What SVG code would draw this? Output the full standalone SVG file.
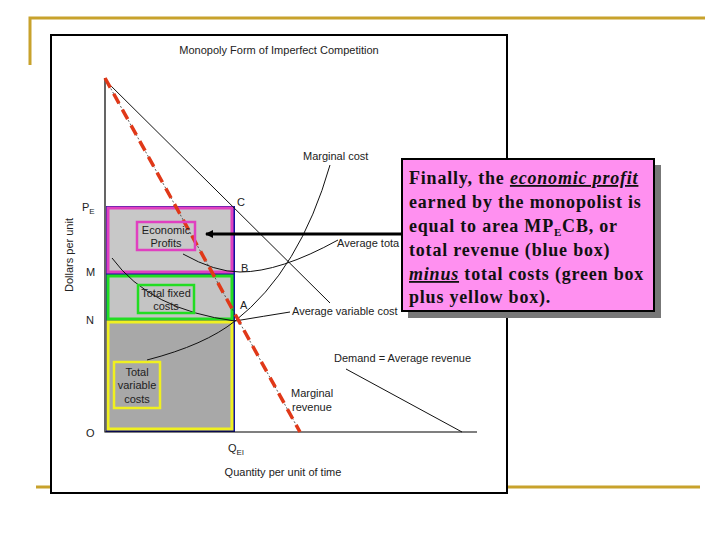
<svg xmlns="http://www.w3.org/2000/svg" width="720" height="540" viewBox="0 0 720 540">
<style>
.s{font-family:"Liberation Sans",Arial,sans-serif;font-size:11px;fill:#222}
.c{fill:none;stroke:#111;stroke-width:1}
.b{font-family:"Liberation Serif","Times New Roman",serif;font-size:18px;font-weight:bold;fill:#111;letter-spacing:0.8px}
</style>
<defs><marker id="ah" markerWidth="8" markerHeight="8" refX="7" refY="4" orient="auto" markerUnits="userSpaceOnUse"><path d="M0,0 L8,4 L0,8 Z" fill="#000"/></marker></defs>
<rect width="720" height="540" fill="#fff"/>
<g id="frame" stroke="#c8a22c" stroke-width="3" fill="none">
<path d="M30,65 V18 H705"/><path d="M36,487 H700"/>
</g>
<g id="chart">
<rect x="51" y="35" width="456" height="458" fill="#fff" stroke="#000" stroke-width="2"/>
<text class="s" x="279" y="54" text-anchor="middle">Monopoly Form of Imperfect Competition</text>
</g>
<g id="boxes">
<rect x="106" y="206" width="129" height="226" fill="#1010a0"/>
<rect x="108" y="208" width="124" height="64" fill="#c8c8c8" stroke="#e040c0" stroke-width="3"/>
<rect x="108" y="276" width="124" height="43" fill="#c4c4c4" stroke="#22dd22" stroke-width="3"/>
<rect x="108" y="322" width="124" height="107" fill="#a8a8a8" stroke="#f0f020" stroke-width="3"/>
</g>
<g id="axes" stroke="#000" fill="none">
<path d="M105,78 V432 H477" stroke-width="1.2"/>
</g>
<g id="curves">
<path class="c" d="M105,80 L330,303"/><path class="c" d="M346,369 L462,432"/>
<path class="c" d="M112,258 Q150,310 235,321 Q265,316 290,312"/>
<path class="c" d="M183,254 Q215,272 240,272 Q280,272 338,240"/>
<path class="c" d="M147,360 Q205,345 235,321 Q300,270 330,165"/>
<path d="M105,78 L300,432" stroke="#333" stroke-width="0.8" stroke-dasharray="2,2" fill="none"/>
<path d="M105,78 L300,432" stroke="#e03818" stroke-width="3.5" stroke-dasharray="11,7" fill="none"/>
</g>
<g id="labels">
<text class="s" x="82" y="211">P<tspan font-size="8" dy="3">E</tspan></text>
<text class="s" x="86" y="276">M</text><text class="s" x="86" y="324">N</text><text class="s" x="86" y="437">O</text>
<text class="s" x="228" y="452">Q<tspan font-size="8" dy="3">El</tspan></text>
<text class="s" x="283" y="476" text-anchor="middle">Quantity per unit of time</text>
<text class="s" x="0" y="0" transform="translate(73,255) rotate(-90)" text-anchor="middle">Dollars per unit</text>
<text class="s" x="237" y="206">C</text><text class="s" x="241" y="272">B</text><text class="s" x="240" y="309">A</text>
<text class="s" x="303" y="160">Marginal cost</text>
<text class="s" x="337" y="247">Average tota</text>
<text class="s" x="292" y="315">Average variable cost</text>
<text class="s" x="334" y="362">Demand = Average revenue</text>
<text class="s" x="291" y="397">Marginal</text><text class="s" x="292" y="411">revenue</text>
</g>
<g id="econ"><rect x="137" y="222" width="58" height="28" fill="none" stroke="#e040c0" stroke-width="2.5"/>
<text class="s" x="166" y="234" text-anchor="middle">Economic</text><text class="s" x="166" y="247" text-anchor="middle">Profits</text></g>
<g id="tfc"><rect x="138" y="285" width="56" height="28" fill="none" stroke="#22dd22" stroke-width="2.5"/>
<text class="s" x="166" y="297" text-anchor="middle">Total fixed</text><text class="s" x="166" y="310" text-anchor="middle">costs</text></g>
<g id="tvc"><rect x="114" y="362" width="46" height="46" fill="none" stroke="#f0f020" stroke-width="2.5"/>
<text class="s" x="137" y="376" text-anchor="middle">Total</text><text class="s" x="137" y="389" text-anchor="middle">variable</text><text class="s" x="137" y="403" text-anchor="middle">costs</text></g>
<g id="callout">
<rect x="408" y="165" width="253" height="153" fill="#777"/>
<rect x="402" y="159" width="252" height="152" fill="#ff90f0" stroke="#000" stroke-width="2"/>
<text class="b" x="409" y="184">Finally, the <tspan font-style="italic" text-decoration="underline">economic profit</tspan></text>
<text class="b" x="409" y="208">earned by the monopolist is</text>
<text class="b" x="409" y="232">equal to area MP<tspan font-size="11" dy="4">E</tspan><tspan dy="-4">CB, or</tspan></text>
<text class="b" x="409" y="256">total revenue (blue box)</text>
<text class="b" x="409" y="280"><tspan font-style="italic" text-decoration="underline">minus</tspan> total costs (green box</text>
<text class="b" x="409" y="303">plus yellow box).</text>
</g>
<g id="connectors"><path d="M401,234 H206" stroke="#000" stroke-width="3" marker-end="url(#ah)"/></g>
</svg>
